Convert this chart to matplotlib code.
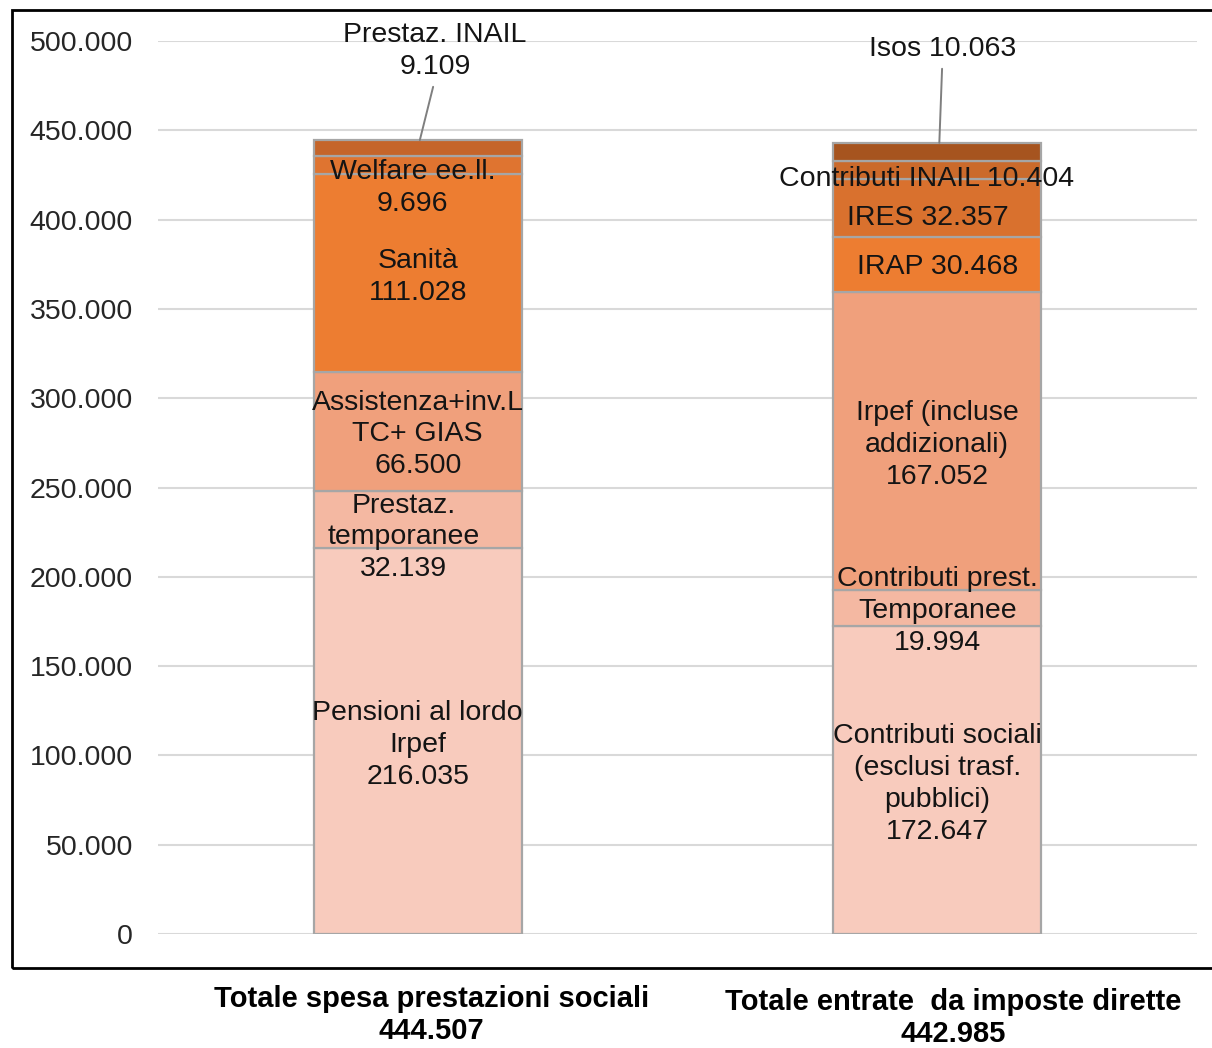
import matplotlib
matplotlib.use("Agg")
import matplotlib.pyplot as plt
from matplotlib.patches import Rectangle
from matplotlib.ticker import FuncFormatter, MultipleLocator

# ---------------- data ----------------
categories = ["Totale spesa prestazioni sociali\n444.507",
              "Totale entrate  da imposte dirette\n442.985"]

left_labels = ["Pensioni al lordo\nIrpef\n216.035",
               "Prestaz.\ntemporanee\n32.139",
               "Assistenza+inv.L\nTC+ GIAS\n66.500",
               "Sanità\n111.028",
               "Welfare ee.ll.\n9.696",
               "Prestaz. INAIL\n9.109"]
left_values = [216035, 32139, 66500, 111028, 9696, 9109]

right_labels = ["Contributi sociali\n(esclusi trasf.\npubblici)\n172.647",
                "Contributi prest.\nTemporanee\n19.994",
                "Irpef (incluse\naddizionali)\n167.052",
                "IRAP 30.468",
                "IRES 32.357",
                "Contributi INAIL 10.404",
                "Isos 10.063"]
right_values = [172647, 19994, 167052, 30468, 32357, 10404, 10063]

# ---------------- styles ----------------
left_colors = ["#F8CBBD", "#F4B8A2", "#F0A07C", "#ED7D31", "#DF7430", "#C5652A"]
right_colors = ["#F8CBBD", "#F4B8A2", "#F0A07C", "#ED7D31", "#D9712E", "#CB6A2B", "#A6541F"]
# label offsets in pixels (dx, dy) relative to segment centre
left_offsets = [(0, -4), (-14, -18), (0, -3), (0, -4), (-5, -23), (15, 89)]
right_offsets = [(0, -4), (0, -3), (0, -4), (0, -3), (-9, -10), (-11, -9), (3, 94)]
left_external = [False, False, False, False, False, True]
right_external = [False, False, False, False, False, False, True]

W, H = 1212, 1048
fig = plt.figure(figsize=(W / 100, H / 100), dpi=100)
ax = fig.add_axes([158 / W, (H - 934) / H, (1197 - 158) / W, (934 - 41) / H])

FONT = ["Liberation Sans", "DejaVu Sans"]
FS = 20.5
LS = 1.29
bar_w = 0.4
edge = "#A6A6A6"


def draw_stack(x, values, colors, labels, offsets, external):
    bottom = 0
    for v, c, lab, off, ext in zip(values, colors, labels, offsets, external):
        ax.bar(x, v, bottom=bottom, width=bar_w, color=c, edgecolor=edge,
               linewidth=1.6, zorder=3)
        yc = bottom + v / 2
        if ext:
            top = bottom + v
            ax.annotate(lab, xy=(x + 0.004, top), xytext=(off[0], off[1]),
                        textcoords="offset pixels", ha="center", va="center",
                        fontsize=FS, family=FONT, color="#141414",
                        linespacing=LS, zorder=5,
                        arrowprops=dict(arrowstyle="-", color="#7f7f7f", lw=1.4,
                                        shrinkA=3, shrinkB=0, relpos=(0.5, 0)))
        else:
            ax.annotate(lab, xy=(x, yc), xytext=off, textcoords="offset pixels",
                        ha="center", va="center", fontsize=FS, family=FONT,
                        color="#141414", linespacing=LS, zorder=5)
        bottom += v


draw_stack(0, left_values, left_colors, left_labels, left_offsets, left_external)
draw_stack(1, right_values, right_colors, right_labels, right_offsets, right_external)

ax.set_xlim(-0.5, 1.5)
ax.set_ylim(0, 500000)
ax.yaxis.set_major_locator(MultipleLocator(50000))
ax.yaxis.set_major_formatter(FuncFormatter(lambda v, p: f"{int(v):,}".replace(",", ".")))
ax.grid(axis="y", color="#D9D9D9", linewidth=1.5, zorder=0)
ax.set_axisbelow(True)
for s in ax.spines.values():
    s.set_visible(False)
ax.tick_params(axis="y", length=0, pad=18, labelsize=FS, labelcolor="#262626")
for t in ax.get_yticklabels():
    t.set_family(FONT)
ax.set_xticks([])

# category labels below the frame (offsets in pixels)
cat_off = [(14, -81), (16, -84)]
for i, (lab, off) in enumerate(zip(categories, cat_off)):
    ax.annotate(lab, xy=(i, 0), xytext=off, textcoords="offset pixels",
                ha="center", va="center", fontsize=21, fontweight="bold",
                family=["Liberation Sans Narrow", "Liberation Sans", "DejaVu Sans"],
                linespacing=1.15, color="black", annotation_clip=False)

# outer frame
frame = Rectangle((12 / W, (H - 968) / H), 1.2, (968 - 10) / H, transform=fig.transFigure,
                  fill=False, edgecolor="black", linewidth=2, clip_on=False)
fig.patches.append(frame)

fig.savefig("out.png", dpi=100)
